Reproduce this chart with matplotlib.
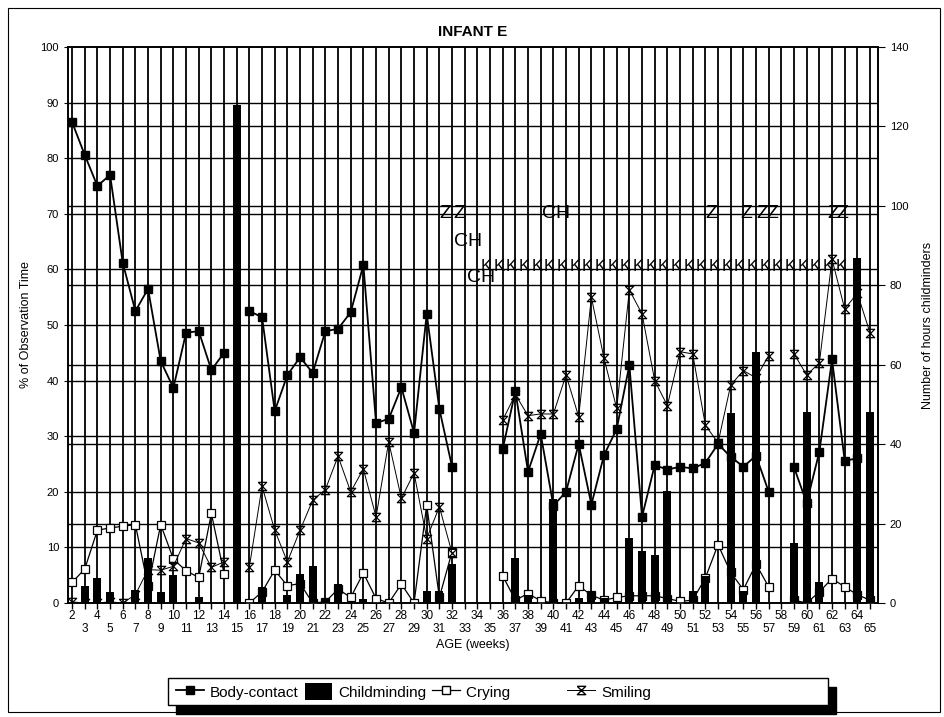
import matplotlib.pyplot as plt
import numpy as np
from matplotlib.path import Path
from matplotlib.patches import Rectangle, Patch
from matplotlib.lines import Line2D

plt.rcParams['font.family'] = ['Liberation Sans', 'DejaVu Sans']

nan = np.nan

# Semanas de edad 2..65
weeks = np.arange(2, 66)

# % del tiempo de observación (nan = semana sin registro)
body_contact = [86.5, 80.6, 75.0, 77.0, 61.2, 52.5, 56.5, 43.5, 38.7, 48.6,
                48.9, 41.9, 45.0, nan, 52.5, 51.4, 34.5, 41.0, 44.2, 41.4,
                48.9, 49.3, 52.3, 60.8, 32.4, 33.1, 38.8, 30.6, 52.0, 34.9,
                24.5, nan, nan, nan, 27.7, 38.1, 23.6, 30.4, 17.5, 20.0,
                28.6, 17.7, 26.6, 31.3, 42.8, 15.5, 24.8, 24.0, 24.5, 24.2,
                25.2, 28.6, 26.3, 24.5, 26.5, 20.0, nan, 24.4, 18.0, 27.2,
                43.8, 25.6, 26.0, nan]

crying = [3.7, 6.1, 13.1, 13.5, 13.8, 14.1, 3.0, 14.1, 7.9, 5.8,
          4.6, 16.1, 5.3, nan, 0.0, 2.0, 5.9, 3.1, 3.5, 0.0,
          0.2, 2.5, 1.0, 5.4, 0.8, 0.0, 3.4, 0.0, 17.6, 1.0,
          9.2, nan, nan, nan, 4.9, 0.5, 1.7, 0.4, 0.0, 0.0,
          3.1, 1.4, 0.5, 1.0, 1.3, 1.3, 1.3, 0.8, 0.3, 0.5,
          4.5, 10.5, 5.5, 2.4, 7.0, 2.9, nan, 0.5, 0.0, 2.0,
          4.4, 2.9, 1.5, 0.5]

smiling = [0.2, 0.0, 0.0, 0.2, 0.0, 1.5, 6.0, 5.9, 6.6, 11.6,
           10.8, 6.4, 7.4, nan, 6.5, 21.0, 13.1, 7.4, 13.1, 18.5,
           20.4, 26.4, 20.0, 24.1, 15.5, 29.0, 18.8, 23.4, 11.6, 17.3,
           9.0, nan, nan, nan, 32.9, 37.5, 33.7, 34.0, 34.0, 41.0,
           33.5, 55.0, 44.0, 35.0, 56.3, 52.0, 40.0, 35.5, 45.2, 44.8,
           32.0, 28.8, 39.2, 41.8, 40.5, 44.5, nan, 44.8, 41.0, 43.2,
           61.8, 52.9, 55.7, 48.6]

# horas con cuidadoras (eje derecho)
childminding = [0, 4.3, 6.4, 2.8, 0, 3.3, 11.3, 2.8, 7.1, 0,
                1.4, 0, 0, 125.4, 0, 4.0, 0, 2.0, 7.3, 9.3,
                1.0, 4.9, 0, 1.0, 0, 0, 0, 0, 3.0, 3.0,
                9.8, 0, 0, 0, 0, 11.3, 2.0, 0, 26.1, 0,
                1.2, 2.9, 1.3, 0, 16.3, 13.0, 12.1, 28.2, 0, 3.0,
                6.8, 0, 47.9, 3.0, 63.2, 0, 0, 15.2, 48.0, 5.2,
                0, 0, 86.9, 48.0]

# anotaciones de texto (semana, %, texto)
notes_x = [31.5, 32.6, 33.3, 34.3, 40.2, 52.5, 55.2, 56.5, 57.25, 62.1, 62.8]
notes_y = [70, 70, 65.1, 58.5, 70, 70, 70, 70, 70, 70, 70]
notes_txt = ['Z', 'Z', 'CH', 'CH', 'CH', 'Z', 'Z', 'Z', 'Z', 'Z', 'Z']
k_weeks = np.arange(35, 64)
k_level = 60.6

# marcador de "sonrisa": aspa cerrada arriba y abajo
smile_marker = Path([(-1, 1), (1, 1), (-1, -1), (1, -1), (-1, 1)],
                    [Path.MOVETO, Path.LINETO, Path.LINETO, Path.LINETO, Path.LINETO])

W, H = 945, 717
fig = plt.figure(figsize=(W / 100, H / 100), dpi=100)
ax = fig.add_axes([68 / W, 1 - 603 / H, (878 - 68) / W, (603 - 47) / H])
ax2 = ax.twinx()

ax.set_xlim(1.68, 65.63)
ax.set_ylim(0, 100)
ax2.set_ylim(0, 140)

# rejilla
ax.set_xticks(weeks[weeks % 2 == 0])
ax.set_xticks(weeks[weeks % 2 == 1], minor=True)
ax.set_yticks(np.arange(0, 101, 10))
ax2.set_yticks(np.arange(0, 141, 20))
for w in weeks:
    ax.axvline(w, color='black', lw=1.3, zorder=1)
for v in np.arange(10, 100, 10):
    ax.axhline(v, color='black', lw=1.0, zorder=1)
for h in np.arange(20, 140, 20):
    ax.axhline(h / 140 * 100, color='black', lw=1.0, zorder=1)

ax.plot(weeks, body_contact, color='black', lw=1.3, marker='s', ms=6,
        mfc='black', zorder=3)
ax.plot(weeks, crying, color='black', lw=0.9, marker='s', ms=6,
        mfc='white', mew=0.9, zorder=3)
ax.plot(weeks, smiling, color='black', lw=0.7, marker=smile_marker, ms=6,
        mfc='none', mew=0.9, zorder=3)

ax2.bar(weeks, childminding, width=0.62, color='black', zorder=2)

for x, y, t in zip(notes_x, notes_y, notes_txt):
    ax.text(x, y, t, fontsize=14, ha='center', va='center', zorder=4)
for k in k_weeks:
    ax.text(k - 0.3, k_level, 'K', fontsize=12, ha='center', va='center', zorder=4)

ax.tick_params(axis='x', which='both', direction='out', length=4, width=1, labelsize=8.5)
ax.tick_params(axis='x', which='major', pad=1)
ax.tick_params(axis='x', which='minor', pad=10.5)
ax.set_xticklabels([str(w) for w in weeks[weeks % 2 == 0]])
ax.set_xticklabels([str(w) for w in weeks[weeks % 2 == 1]], minor=True)
ax.tick_params(axis='y', direction='out', length=3, labelsize=8)
ax2.tick_params(axis='y', direction='out', length=5, labelsize=8)

for a in (ax, ax2):
    for s in a.spines.values():
        s.set_linewidth(1.2)

ax.set_xlabel('AGE (weeks)', fontsize=9, labelpad=3)
ax.set_ylabel('% of Observation Time', fontsize=9, labelpad=6)
ax2.set_ylabel('Number of hours childminders', fontsize=9, labelpad=10)
ax.set_title('INFANT E', fontsize=11, fontweight='bold', pad=8)

# marco de la figura
fig.patches.append(Rectangle((8 / W, 1 - 712 / H), 932 / W, 704 / H,
                             transform=fig.transFigure, fill=False, lw=0.8,
                             edgecolor='black'))

# caja de la leyenda con sombra negra
fig.patches.append(Rectangle((176 / W, 1 - 714 / H), 660 / W, 27 / H,
                             transform=fig.transFigure, facecolor='black',
                             edgecolor='black'))
fig.patches.append(Rectangle((168 / W, 1 - 705 / H), 660 / W, 27 / H,
                             transform=fig.transFigure, facecolor='white',
                             edgecolor='black', lw=1))

handles = [
    Line2D([], [], color='black', lw=1.3, marker='s', ms=6, mfc='black'),
    Patch(facecolor='black'),
    Line2D([], [], color='black', lw=0.9, marker='s', ms=6, mfc='white'),
    Line2D([], [], color='black', lw=0.7, marker=smile_marker, ms=6, mfc='none'),
]
labels = ['Body-contact', 'Childminding', 'Crying            ', 'Smiling']
fig.legend(handles, labels, loc='center left',
           bbox_to_anchor=(170 / W, 1 - 691.5 / H), ncol=4, frameon=False,
           fontsize=11, handlelength=1.8, handleheight=1.4, handletextpad=0.4,
           columnspacing=0.4, borderaxespad=0)

fig.savefig('out.png', dpi=100)
